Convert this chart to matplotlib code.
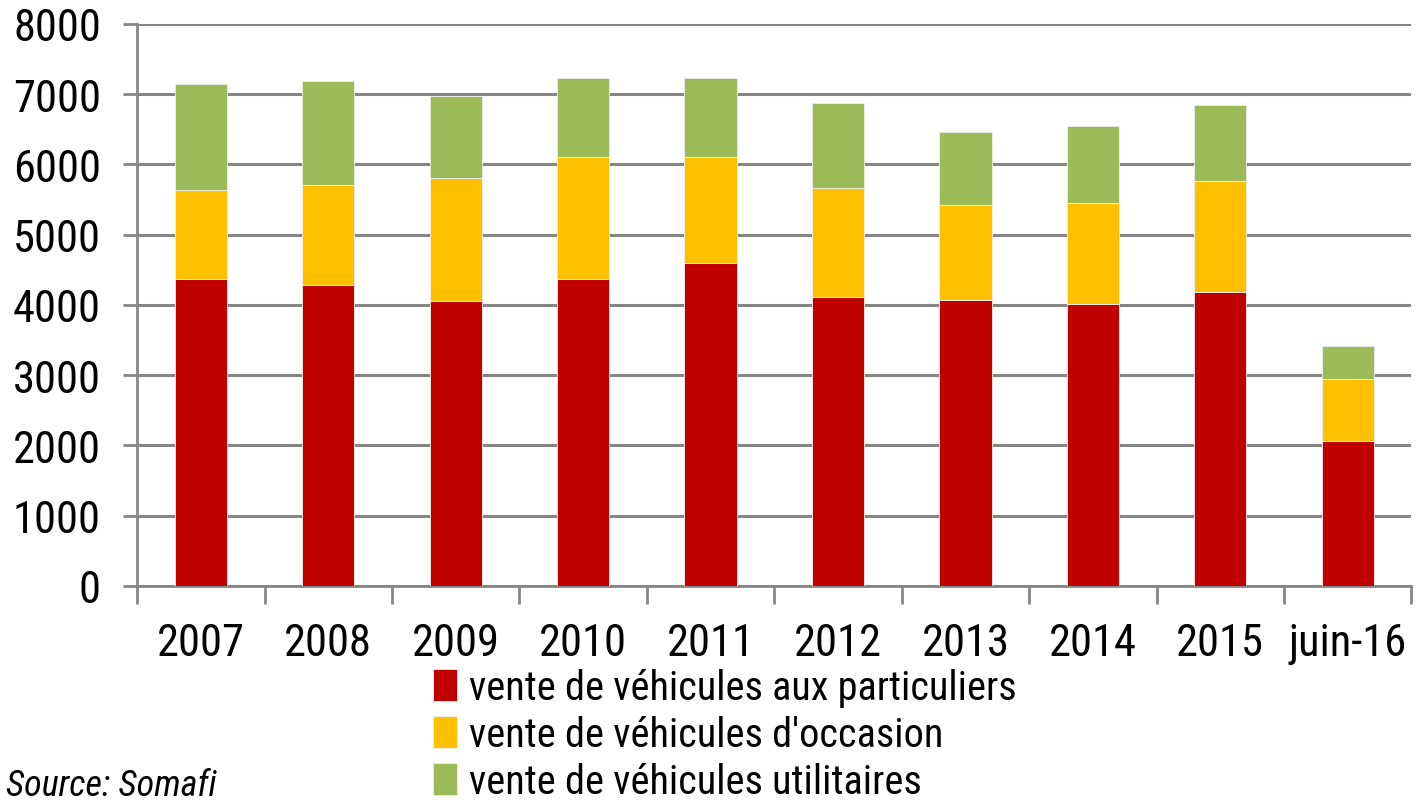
import matplotlib
matplotlib.use('Agg')
import matplotlib.pyplot as plt
from matplotlib import font_manager
import numpy as np

# values
years = ['2007', '2008', '2009', '2010', '2011', '2012', '2013', '2014', '2015', 'juin-16']
particuliers = [4370, 4280, 4060, 4370, 4590, 4110, 4070, 4020, 4190, 2070]
occasion = [1260, 1430, 1740, 1740, 1520, 1560, 1350, 1430, 1570, 870]
utilitaires = [1520, 1480, 1180, 1120, 1120, 1210, 1040, 1090, 1080, 470]

labels = ['vente de véhicules aux particuliers',
          'vente de véhicules d\'occasion',
          'vente de véhicules utilitaires']
colors = ['#C00000', '#FFC000', '#9BBB59']

# pick a narrow font if one is there
names = set(f.name for f in font_manager.fontManager.ttflist)
narrow = None
for cand in ['Liberation Sans Narrow', 'Roboto Condensed', 'DejaVu Sans Condensed', 'Open Sans Condensed']:
    if cand in names:
        narrow = cand
        break
if narrow:
    plt.rcParams['font.family'] = [narrow, 'DejaVu Sans']
    fs_tick, fs_leg, fs_src = 32, 29, 26
else:
    plt.rcParams['font.family'] = ['DejaVu Sans']
    plt.rcParams['font.stretch'] = 'condensed'
    fs_tick, fs_leg, fs_src = 26, 22, 20

fig = plt.figure(figsize=(14.16, 8.04), dpi=100)
ax = fig.add_axes([0.0968, 0.27, 0.9, 0.699])

x = np.arange(len(years))
w = 0.41
b1 = ax.bar(x, particuliers, w, color=colors[0], edgecolor='#f0f0f0', linewidth=0.6, zorder=3)
b2 = ax.bar(x, occasion, w, bottom=particuliers, color=colors[1], edgecolor='#f0f0f0', linewidth=0.6, zorder=3)
bot = np.array(particuliers) + np.array(occasion)
b3 = ax.bar(x, utilitaires, w, bottom=bot, color=colors[2], edgecolor='#f0f0f0', linewidth=0.6, zorder=3)

ax.set_xlim(-0.5, len(years) - 0.5)
ax.set_ylim(0, 8000)
ax.set_yticks(range(0, 8001, 1000))
ax.yaxis.grid(True, color='#868686', linewidth=2.2, zorder=0)

for s in ['top', 'right']:
    ax.spines[s].set_visible(False)
for s in ['left', 'bottom']:
    ax.spines[s].set_color('#868686')
    ax.spines[s].set_linewidth(2)

ax.set_xticks(x)
ax.set_xticklabels(years)
ax.tick_params(axis='x', length=0, labelsize=fs_tick, pad=26)
ax.set_xticks(np.arange(-0.5, len(years), 1), minor=True)
ax.tick_params(axis='x', which='minor', length=13, width=2, color='#868686', direction='out')
ax.tick_params(axis='y', length=10, width=2, color='#868686', labelsize=fs_tick, pad=16)

leg = fig.legend([b1, b2, b3], labels, loc='upper left', bbox_to_anchor=(0.3058, 0.168),
                 frameon=False, fontsize=fs_leg, handlelength=0.6, handleheight=0.85,
                 handletextpad=0.3, labelspacing=0.2, borderpad=0, borderaxespad=0)

fig.text(0.004, 0.0, 'Source: Somafi', fontsize=fs_src, style='italic', ha='left', va='bottom')

fig.savefig('out.png', dpi=100)
